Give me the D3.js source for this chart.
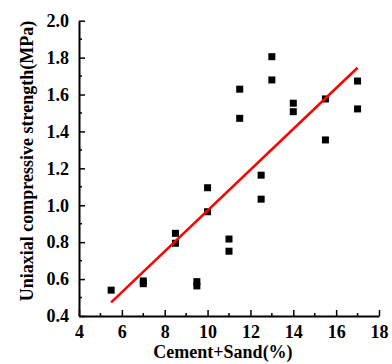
<!DOCTYPE html>
<html><head><meta charset="utf-8">
<script src="https://cdn.jsdelivr.net/npm/d3@7"></script>
<style>body{margin:0;background:#fff}svg{display:block}</style>
</head><body>
<script>
const xVals = [5.5, 7, 7, 8.5, 8.5, 9.5, 9.5, 10, 10, 11, 11, 11.5, 11.5, 12.5, 12.5, 13, 13, 14, 14, 15.5, 15.5, 17, 17];
const yVals = [0.54, 0.59, 0.575, 0.848, 0.794, 0.586, 0.563, 1.095, 0.965, 0.817, 0.751, 1.629, 1.471, 1.163, 1.033, 1.805, 1.679, 1.553, 1.507, 1.576, 1.354, 1.673, 1.522];
const fitX = [5.5, 17];
const fitY = [0.474, 1.745];
const xTicks = [4, 6, 8, 10, 12, 14, 16, 18];
const yTicks = [0.4, 0.6, 0.8, 1.0, 1.2, 1.4, 1.6, 1.8, 2.0];

const W = 392, H = 364;
const svg = d3.select("body").append("svg").attr("width", W).attr("height", H);
const x = d3.scaleLinear().domain([4, 18]).range([79, 379]);
const y = d3.scaleLinear().domain([0.4, 2.0]).range([316, 20.7]);
const font = "'Liberation Serif','Times New Roman',serif";

// minor ticks
const xMinor = d3.range(5, 18, 2);
const yMinor = d3.range(0.5, 2.0, 0.2);
svg.append("g").selectAll("line").data(xMinor).join("line")
  .attr("x1", d => x(d)).attr("x2", d => x(d)).attr("y1", 316).attr("y2", 313)
  .attr("stroke", "#000").attr("stroke-width", 1.5);
svg.append("g").selectAll("line").data(yMinor).join("line")
  .attr("y1", d => y(d)).attr("y2", d => y(d)).attr("x1", 79).attr("x2", 82)
  .attr("stroke", "#000").attr("stroke-width", 1.5);

const xAxis = svg.append("g").attr("transform", "translate(0,316)")
  .call(d3.axisBottom(x).tickValues(xTicks).tickSizeInner(-6).tickSizeOuter(0).tickPadding(9).tickFormat(d3.format("d")));
const yAxis = svg.append("g").attr("transform", "translate(79,0)")
  .call(d3.axisLeft(y).tickValues(yTicks).tickSizeInner(-6).tickSizeOuter(0).tickPadding(10).tickFormat(d3.format(".1f")));
[xAxis, yAxis].forEach(g => {
  g.select(".domain").attr("stroke", "#000").attr("stroke-width", 2);
  g.selectAll(".tick line").attr("stroke", "#000").attr("stroke-width", 1.5);
  g.selectAll(".tick text").attr("font-family", font).attr("font-weight", "bold")
    .attr("font-size", 18).attr("fill", "#000");
});

// points
svg.append("g").selectAll("rect").data(xVals.map((d, i) => [d, yVals[i]])).join("rect")
  .attr("x", d => x(d[0]) - 3.5).attr("y", d => y(d[1]) - 3.5)
  .attr("width", 7).attr("height", 7).attr("fill", "#000");

// fit line
svg.append("path").datum(fitX.map((d, i) => [d, fitY[i]]))
  .attr("d", d3.line().x(d => x(d[0])).y(d => y(d[1])))
  .attr("stroke", "#ff0000").attr("stroke-width", 2.5).attr("fill", "none");

svg.append("text").attr("x", 223).attr("y", 358).attr("text-anchor", "middle")
  .attr("font-family", font).attr("font-weight", "bold").attr("font-size", 18)
  .text("Cement+Sand(%)");
svg.append("text").attr("transform", "translate(33,161) rotate(-90)").attr("text-anchor", "middle")
  .attr("font-family", font).attr("font-weight", "bold").attr("font-size", 18)
  .text("Uniaxial compressive strength(MPa)");
</script>
</body></html>
